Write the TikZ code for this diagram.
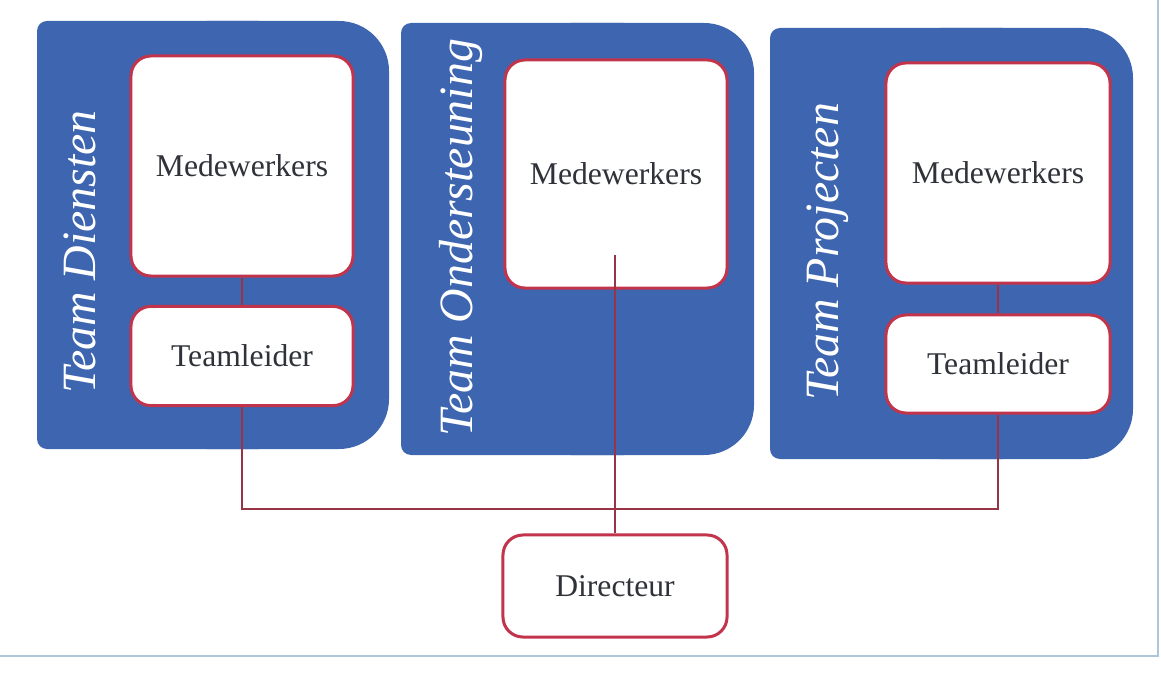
\documentclass[tikz,border=0pt]{standalone}
\usepackage{fontspec}
\setmainfont{Liberation Serif}
\usetikzlibrary{positioning}
\definecolor{teamblue}{HTML}{3D65B0}
\definecolor{boxred}{HTML}{C2344C}
\definecolor{linkred}{HTML}{983445}
\definecolor{textgray}{HTML}{2F3238}
\definecolor{framegray}{HTML}{AFC6D8}
\tikzset{
  unit/.style={rectangle,rounded corners=0.5cm,draw=boxred,line width=0.75mm,
    fill=white,text=textgray,font=\fontsize{22.5}{26}\selectfont,inner sep=0pt},
  teamlabel/.style={rotate=90,anchor=base,text=white,font=\itshape\fontsize{34}{38}\selectfont},
  link/.style={draw=linkred,line width=0.5mm},
}
% team background: small corners left, big corners right
\newcommand{\teamshape}[4]{%
  \fill[teamblue,rounded corners=0.25cm] (#1,#2) rectangle (#3-120,#4);
  \fill[teamblue,rounded corners=1.25cm] (#1+120,#2) rectangle (#3,#4);
}
\begin{document}
\begin{tikzpicture}[x=0.025cm,y=-0.025cm]
\useasboundingbox (0,0) rectangle (1161,675);
% \draw[help lines] (0,0) grid (1161,675);
\draw[framegray,line width=0.5mm] (0,656) -- (1158,656) -- (1158,0);
%
\teamshape{37}{21}{389}{449}
\teamshape{401}{23}{754}{455}
\teamshape{770}{28}{1133}{459}
%
\node (lbl1) [teamlabel] at (95,252) {Team Diensten};
\node (lbl2) [teamlabel] at (472,238) {Team Ondersteuning};
\node (lbl3) [teamlabel] at (838,252) {Team Projecten};
%
\node (mw1) [unit,minimum width=5.55cm,minimum height=5.5cm] at (242,166) {Medewerkers};
\node (tl1) [unit,minimum width=5.55cm,minimum height=2.48cm] at (242,356) {Teamleider};
\node (mw2) [unit,minimum width=5.55cm,minimum height=5.7cm] at (616,174) {Medewerkers};
\node (mw3) [unit,minimum width=5.6cm,minimum height=5.5cm] at (998,173) {Medewerkers};
\node (tl3) [unit,minimum width=5.6cm,minimum height=2.45cm] at (998,364) {Teamleider};
\node (dir) [unit,minimum width=5.6cm,minimum height=2.55cm] at (615,586) {Directeur};
%
\coordinate (bus) at (616,509);
\path[link] (mw1) edge (tl1);
\path[link] (mw3) edge (tl3);
\draw[link] (tl1.south) -- (tl1.south |- bus) -- (tl3.south |- bus) -- (tl3.south);
\draw[link] ([yshift=0.875cm]mw2.south -| dir.north) -- (dir.north);
\end{tikzpicture}
\end{document}
